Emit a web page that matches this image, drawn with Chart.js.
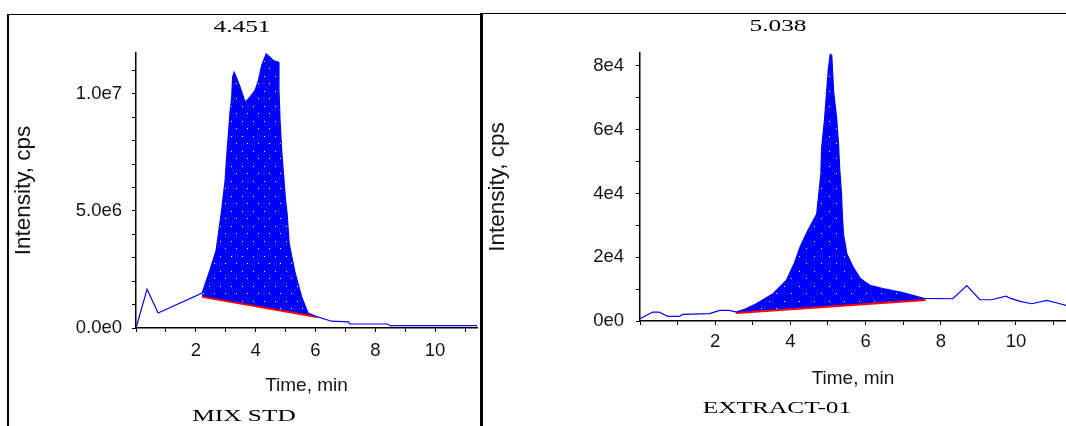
<!DOCTYPE html>
<html>
<head>
<meta charset="utf-8">
<script src="https://cdn.jsdelivr.net/npm/chart.js@4.4.1/dist/chart.umd.min.js"></script>
<style>
body{margin:0;background:#fff;width:1066px;height:426px;overflow:hidden;position:relative;}
.ln{position:absolute;background:#000;}
canvas{position:absolute;}
.cap{position:absolute;font-family:'Liberation Serif','Times New Roman',serif;font-size:17.5px;line-height:1;color:#000;white-space:nowrap;transform:translateX(-50%) scaleX(1.45);}
</style>
</head>
<body>
<div class="ln" style="left:7px;top:14px;width:2px;height:412px"></div>
<div class="ln" style="left:7px;top:13.5px;width:475px;height:1.5px"></div>
<div class="ln" style="left:480px;top:13px;width:2.5px;height:413px"></div>
<div class="ln" style="left:480px;top:12.5px;width:586px;height:1.5px"></div>

<canvas id="mix" width="470" height="380" style="left:10px;top:30px"></canvas>
<canvas id="ext" width="583" height="380" style="left:483px;top:30px"></canvas>

<div class="cap" style="left:242px;top:17.5px">4.451</div>
<div class="cap" style="left:778px;top:16.5px">5.038</div>
<div class="cap" style="left:243.5px;top:406.5px">MIX STD</div>
<div class="cap" style="left:776.5px;top:399px">EXTRACT-01</div>

<script>
// MIX STD chromatogram
var mixTime = [0, 0.37, 0.74, 2.21, 2.47, 2.68, 2.85, 2.98, 3.03, 3.09, 3.14, 3.20, 3.23, 3.28, 3.37, 3.48, 3.65, 3.81, 3.98, 4.09,
  4.20, 4.35, 4.48, 4.59, 4.76, 4.78, 4.82, 4.87, 4.93, 5.00, 5.05, 5.12, 5.32, 5.55, 5.75, 5.99, 6.54, 7.10, 7.15, 8.40, 8.50, 11.4];
var mixIntensity = [0, 1.66e6, 0.64e6, 1.49e6, 2.47e6, 3.33e6, 4.90e6, 6.31e6, 7.30e6, 8.31e6, 9.17e6, 9.86e6, 10.72e6, 10.93e6, 10.66e6, 10.29e6, 9.65e6, 9.86e6, 10.15e6, 10.57e6,
  11.21e6, 11.71e6, 11.57e6, 11.43e6, 11.36e6, 10.15e6, 8.74e6, 7.59e6, 6.61e6, 5.46e6, 4.90e6, 3.62e6, 2.35e6, 1.28e6, 0.64e6, 0.51e6, 0.29e6, 0.26e6, 0.17e6, 0.17e6, 0.10e6, 0.10e6];
var mixBaseTime = [2.21, 6.05];
var mixBaseIntensity = [1.33e6, 0.47e6];
var mixYLabels = [0, 5e6, 1e7];

// EXTRACT-01 chromatogram
var extTime = [0, 0.34, 0.50, 0.74, 1.05, 1.14, 1.85, 2.12, 2.38, 2.56, 2.83, 3.09, 3.54, 3.89, 4.11, 4.26, 4.46, 4.70, 4.81, 4.83,
  4.91, 4.97, 5.01, 5.06, 5.10, 5.15, 5.23, 5.28, 5.31, 5.36, 5.38, 5.41, 5.50, 5.66, 5.86, 6.11, 6.46, 6.96, 7.55, 8.32,
  8.69, 9.04, 9.35, 9.73, 9.84, 10.11, 10.42, 10.82, 11.17, 11.33];
var extIntensity = [750, 2800, 2800, 1460, 1460, 2090, 2300, 3330, 3330, 2800, 3870, 5420, 8540, 12690, 18300, 23280, 28270, 33570, 46040, 54140,
  63500, 72850, 79080, 83600, 83300, 71900, 63500, 55390, 47910, 39800, 33570, 27340, 21100, 17050, 13310, 11220, 10190, 8950, 7080, 6980,
  11130, 6670, 6670, 7790, 7170, 6140, 5420, 6450, 5420, 4890];
var extBaseTime = [2.56, 7.6];
var extBaseIntensity = [2500, 6600];
var extYLabels = [0, 2e4, 4e4, 6e4, 8e4];

var xLabels = [2, 4, 6, 8, 10];

var tickFont = {family: "'Liberation Sans',Arial,sans-serif", size: 18.5};
var xTitleFont = {family: "'Liberation Sans',Arial,sans-serif", size: 19};
var yTitleFont = {family: "'Liberation Sans',Arial,sans-serif", size: 22.5};
var txt = '#151515';

function dots(ctx, w, h, pts) {
  var c = document.createElement('canvas');
  c.width = w; c.height = h;
  var g = c.getContext('2d');
  g.fillStyle = '#0000ff';
  g.fillRect(0, 0, w, h);
  g.fillStyle = '#ffffff';
  pts.forEach(function(p) { g.fillRect(p[0], p[1], 1, 1); });
  return ctx.createPattern(c, 'repeat');
}

function near(list, v, tol) {
  for (var i = 0; i < list.length; i++) {
    if (Math.abs(list[i] - v) < tol) return list[i];
  }
  return null;
}

function sciLabel(v, digits) {
  return v.toExponential(digits).replace('e+', 'e');
}

// chart.js spreads ticks evenly when min/max/stepSize are all set, so list them by hand
function stepTicks(max, step) {
  return function(s) {
    var t = [];
    for (var i = 0; i * step <= max + step * 1e-6; i++) t.push({value: i * step});
    s.ticks = t;
  };
}

function drawChrom(id, o) {
  var ctx = document.getElementById(id).getContext('2d');
  var pts = o.t.map(function(t, i) { return {x: t, y: o.v[i]}; });
  var base = o.bt.map(function(t, i) { return {x: t, y: o.bv[i]}; });
  var peak = pts.filter(function(p) { return p.x >= o.bt[0] && p.x <= o.bt[1]; });

  return new Chart(ctx, {
    type: 'line',
    data: {
      datasets: [
        {data: pts, borderColor: '#0000ff', borderWidth: 1.2, pointRadius: 0, tension: 0, fill: false},
        {data: base, borderColor: '#ff0000', borderWidth: 2, pointRadius: 0, tension: 0, fill: false},
        {data: peak, borderColor: 'rgba(0,0,0,0)', borderWidth: 1, pointRadius: 0, tension: 0,
          backgroundColor: o.pattern(ctx), fill: 1}
      ]
    },
    options: {
      responsive: false,
      animation: false,
      events: [],
      layout: {padding: o.pad},
      plugins: {legend: {display: false}, tooltip: {enabled: false}},
      scales: {
        x: {
          type: 'linear', min: 0, max: o.xmax,
          afterBuildTicks: stepTicks(o.xmax, 1),
          afterFit: function(s) { s.height = o.xh; },
          border: {color: '#000', width: 1.5},
          grid: {drawOnChartArea: false, tickLength: 4, tickColor: '#000', tickWidth: 1},
          ticks: {autoSkip: false, maxRotation: 0, padding: o.xtp, color: txt, font: tickFont,
            callback: function(v) {
              var l = near(xLabels, v, 0.01);
              return l === null ? '' : String(l);
            }},
          title: {display: true, text: 'Time, min', color: txt, font: xTitleFont, padding: {top: 0, bottom: o.xtitle}}
        },
        y: {
          min: 0, max: o.ymax,
          afterBuildTicks: stepTicks(o.ymax, o.ystep),
          afterFit: function(s) { s.width = o.yw; },
          border: {color: '#000', width: 1.5},
          grid: {drawOnChartArea: false, tickLength: 4, tickColor: '#000', tickWidth: 1},
          ticks: {autoSkip: false, padding: o.ytp, color: txt, font: tickFont,
            callback: function(v) {
              var l = near(o.ylab, v, o.ystep * 0.01);
              return l === null ? '' : sciLabel(l, o.digits);
            }},
          title: {display: true, text: 'Intensity, cps', color: txt, font: yTitleFont, padding: {top: o.ytitle, bottom: 0}}
        }
      }
    }
  });
}

drawChrom('mix', {
  t: mixTime, v: mixIntensity, bt: mixBaseTime, bv: mixBaseIntensity,
  xmax: 11.4, ymax: 1.175e7, ystep: 1e6, ylab: mixYLabels, digits: 1,
  pad: {left: 0, right: 3, top: 23, bottom: 0}, yw: 126, xh: 82,
  xtp: 8, ytp: 10, xtitle: 13, ytitle: 0,
  pattern: function(ctx) { return dots(ctx, 11, 15, [[1, 1], [6, 8]]); }
});

drawChrom('ext', {
  t: extTime, v: extIntensity, bt: extBaseTime, bv: extBaseIntensity,
  xmax: 11.33, ymax: 84000, ystep: 1e4, ylab: extYLabels, digits: 0,
  pad: {left: 0, right: 0, top: 22, bottom: 0}, yw: 157, xh: 89,
  xtp: 6, ytp: 12, xtitle: 20, ytitle: 1,
  pattern: function(ctx) { return dots(ctx, 15, 15, [[1, 1], [8, 8]]); }
});
</script>
</body>
</html>
